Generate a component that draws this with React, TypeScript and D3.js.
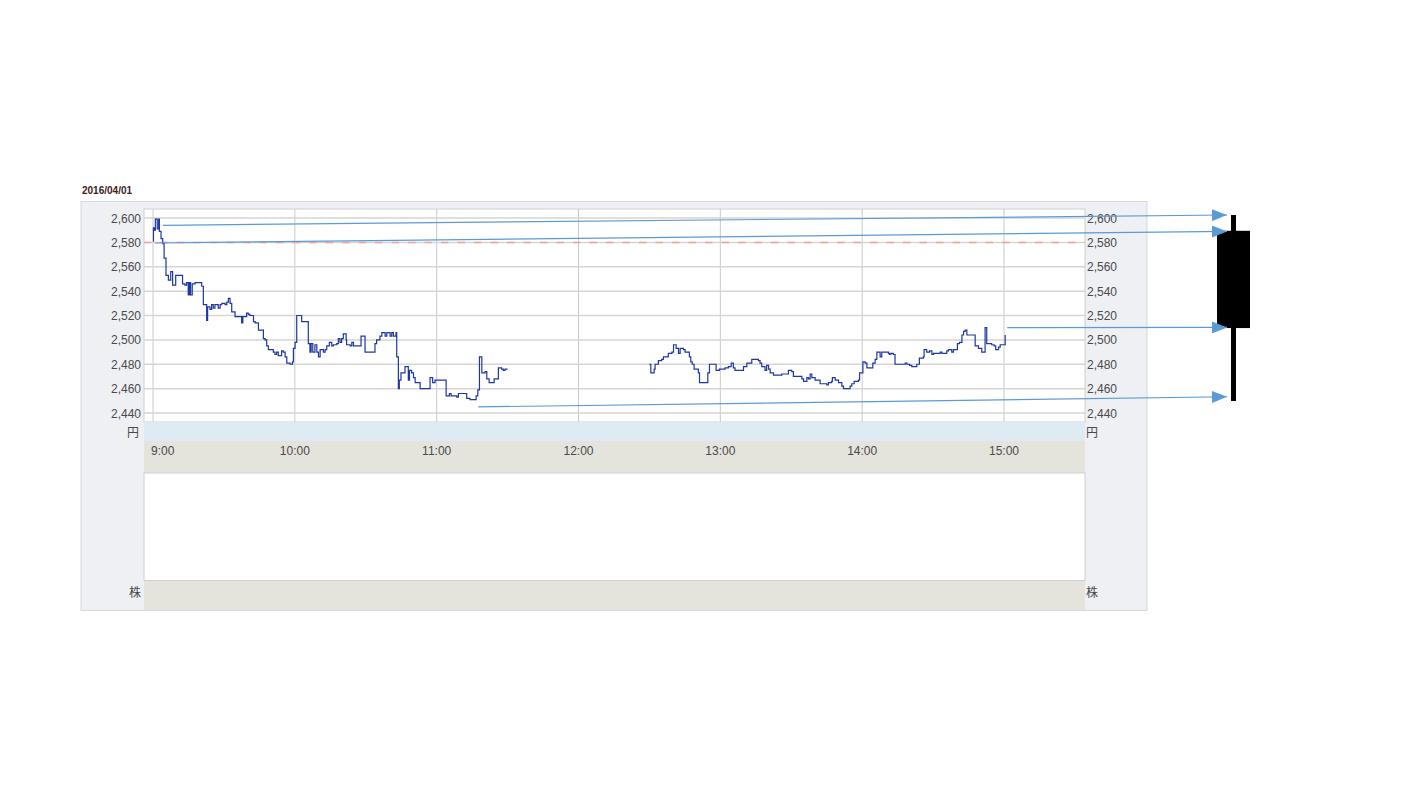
import React from "react";
import * as d3 from "d3";

// ---- data (minutes after 9:00, price in yen) ----
const dateLabel = "2016/04/01";
const prevClose = 2580;
const yTicks = [2440, 2460, 2480, 2500, 2520, 2540, 2560, 2580, 2600];
const hourTicks = [0, 60, 120, 180, 240, 300, 360];
const hourLabels = ["9:00", "10:00", "11:00", "12:00", "13:00", "14:00", "15:00"];

const morningSession: [number, number][] = [
  [0, 2581], [0.2, 2592], [0.5, 2590], [1.0, 2599], [1.8, 2591], [2.4, 2599], [2.7, 2589], [3.4, 2583],
  [4.1, 2579], [4.7, 2567], [5.5, 2553], [6.5, 2549], [7.5, 2556], [8.3, 2545], [9.6, 2553], [12.5, 2546],
  [13.5, 2545], [14.2, 2547], [14.9, 2537], [15.4, 2547], [15.9, 2537], [16.6, 2546], [17.8, 2547], [20.6, 2544],
  [21.3, 2529], [22.7, 2516], [23.1, 2527], [24.1, 2525], [24.8, 2529], [25.5, 2526], [26.2, 2529], [27.6, 2526],
  [28.4, 2529], [29.1, 2530], [30.5, 2529], [31.2, 2531], [31.9, 2534], [32.6, 2530], [33.3, 2523], [34.7, 2519],
  [37.5, 2514], [38.0, 2519], [39.6, 2522], [40.3, 2521], [41.0, 2520], [42.5, 2515], [43.2, 2514], [44.6, 2508],
  [46.7, 2501], [47.4, 2500], [48.1, 2495], [48.8, 2492], [50.9, 2490], [51.6, 2488], [52.3, 2490], [53.0, 2487],
  [54.4, 2491], [55.1, 2490], [55.9, 2486], [56.6, 2481], [58.0, 2480], [59.0, 2482], [59.4, 2493], [60.1, 2498],
  [60.8, 2520], [62.9, 2515], [65.7, 2497], [66.4, 2490], [66.9, 2497], [67.6, 2490], [68.5, 2496], [69.3, 2490],
  [70.0, 2486], [70.7, 2492], [72.1, 2490], [72.8, 2492], [73.5, 2495], [74.6, 2498], [75.6, 2495], [76.3, 2496],
  [77.7, 2497], [78.4, 2501], [79.1, 2498], [79.8, 2501], [80.5, 2505], [81.7, 2500], [81.9, 2496], [83.4, 2495],
  [84.1, 2498], [84.8, 2495], [88.0, 2503], [89.7, 2490], [93.9, 2497], [94.6, 2500], [96.0, 2503], [96.8, 2506],
  [98.2, 2503], [98.9, 2506], [100.3, 2503], [101.0, 2506], [101.7, 2503], [102.8, 2506], [103.1, 2486], [103.8, 2460],
  [104.2, 2467], [104.9, 2473], [106.6, 2478], [108.0, 2467], [108.5, 2475], [109.4, 2473], [110.2, 2469], [110.9, 2465],
  [113.0, 2460], [117.2, 2469], [118.3, 2465], [119.3, 2467], [124.0, 2454], [125.4, 2456], [126.1, 2454], [128.5, 2453],
  [129.2, 2456], [132.7, 2452], [134.1, 2451], [136.7, 2454], [137.4, 2459], [138.1, 2486], [139.1, 2473], [140.5, 2474],
  [141.2, 2468], [142.2, 2465], [144.3, 2468], [146.1, 2477], [147.5, 2476], [148.2, 2475], [148.9, 2476], [150, 2476],
];

const afternoonSession: [number, number][] = [
  [209.9, 2480], [210.6, 2473], [212.0, 2476], [212.4, 2480], [213.8, 2483], [215.2, 2484], [215.9, 2486], [218.0, 2489],
  [219.5, 2490], [220.2, 2496], [221.3, 2493], [222.3, 2489], [223.0, 2493], [224.4, 2492], [225.1, 2490], [226.9, 2486],
  [227.5, 2482], [228.1, 2480], [228.9, 2476], [230.7, 2473], [231.2, 2465], [234.7, 2473], [235.4, 2480], [238.2, 2475],
  [239.6, 2476], [242.0, 2477], [243.4, 2478], [244.6, 2481], [245.5, 2477], [246.2, 2475], [249.8, 2478], [251.2, 2481],
  [253.3, 2484], [256.1, 2483], [256.8, 2481], [257.5, 2478], [258.9, 2475], [259.6, 2479], [260.4, 2476], [261.1, 2473],
  [262.5, 2471], [266.0, 2472], [268.8, 2475], [270.2, 2474], [270.9, 2470], [274.5, 2468], [275.2, 2466], [276.6, 2469],
  [277.3, 2468], [278.0, 2472], [278.7, 2469], [280.1, 2467], [282.2, 2464], [285.0, 2463], [285.7, 2465], [287.1, 2466],
  [287.4, 2469], [288.6, 2467], [290.0, 2465], [291.4, 2462], [292.1, 2460], [294.9, 2462], [295.6, 2464], [296.6, 2466],
  [298.4, 2467], [298.9, 2473], [300.3, 2482], [301.3, 2481], [302.0, 2477], [304.5, 2481], [305.5, 2484], [306.2, 2490],
  [307.6, 2486], [308.3, 2490], [311.1, 2489], [311.5, 2488], [312.1, 2489], [313.2, 2488], [313.9, 2480], [318.2, 2481],
  [318.9, 2480], [320.0, 2479], [321.0, 2478], [323.1, 2480], [324.2, 2485], [325.9, 2486], [326.2, 2492], [327.3, 2490],
  [328.5, 2491], [329.5, 2488], [330.2, 2489], [333.0, 2490], [333.7, 2489], [335.8, 2491], [336.5, 2492], [337.9, 2490],
  [338.6, 2492], [340.3, 2497], [341.2, 2498], [342.2, 2504], [342.9, 2507], [343.6, 2508], [344.3, 2504], [347.8, 2495],
  [349.2, 2493], [350.6, 2490], [352.0, 2510], [352.7, 2497], [354.8, 2496], [355.8, 2495], [356.5, 2492], [357.7, 2494],
  [358.4, 2496], [360.5, 2504],
];

// candlestick summary (open, high, low, close)
const candleOHLC = { open: 2590, high: 2603, low: 2450, close: 2510 };
// annotation arrows: start point on chart -> candle value
const arrowStarts: [number, number][] = [[2.5, 2594], [0, 2579.5], [360.5, 2510], [136.7, 2445]];
const arrowTargets = [2603, 2589.5, 2510.5, 2453.5];

export default function App() {
  const W = 1409, H = 793;
  const plotL = 144, plotR = 1085, plotT = 209, plotB = 422;
  const x = d3.scaleLinear().domain([0, 360]).range([153, 1004]);
  const y = d3.scaleLinear().domain([2440, 2600]).range([413, 218]);
  const cy = d3.scaleLinear().domain([candleOHLC.low, candleOHLC.high]).range([401, 215]);
  const line = d3.line<[number, number]>().x(d => x(d[0])).y(d => y(d[1])).curve(d3.curveStepAfter);
  const font = "'Liberation Sans', Arial, sans-serif";
  const cjk = "'Noto Sans CJK JP', sans-serif";
  const lblColor = "#4a4a4a";
  const arrowColor = "#5b9bd5";
  const candleX = 1233.5;

  return (
    <svg width={W} height={H} style={{ position: "absolute", left: 0, top: 0, background: "#fff" }}>
      <defs>
        <marker id="ah" markerUnits="userSpaceOnUse" markerWidth="16" markerHeight="12" refX="15" refY="6" orient="auto">
          <path d="M0,0 L15,6 L0,12 Z" fill={arrowColor} />
        </marker>
      </defs>
      <text x={82} y={194} fontFamily={font} fontWeight="bold" fontSize={10} fill="#3b2222">{dateLabel}</text>
      {/* outer panel */}
      <rect x={81} y={201.5} width={1066} height={409} fill="#eef0f4" stroke="#d6d8dc" strokeWidth={1} />
      {/* price plot */}
      <rect x={plotL} y={plotT} width={plotR - plotL} height={plotB - plotT} fill="#fff" stroke="#cfcfcf" strokeWidth={1} />
      {hourTicks.map(t => (
        <line key={"v" + t} x1={x(t)} x2={x(t)} y1={plotT} y2={plotB} stroke="#c9c9c9" strokeWidth={1} />
      ))}
      {yTicks.map(v => (
        <line key={"h" + v} x1={plotL} x2={plotR} y1={y(v)} y2={y(v)} stroke="#d5d5d5" strokeWidth={1.5} />
      ))}
      <line x1={plotL} x2={plotR} y1={y(prevClose)} y2={y(prevClose)} stroke="#f2a29c" strokeWidth={1.5} strokeDasharray="7.5 9" />
      {yTicks.map(v => (
        <text key={"l" + v} x={141} y={y(v) + 4.5} textAnchor="end" fontFamily={font} fontSize={12} fill={lblColor}>{d3.format(",")(v)}</text>
      ))}
      {yTicks.map(v => (
        <text key={"r" + v} x={1087} y={y(v) + 4.5} fontFamily={font} fontSize={12} fill={lblColor}>{d3.format(",")(v)}</text>
      ))}
      <path d={line(morningSession) || ""} fill="none" stroke="#1f37a0" strokeWidth={1.2} />
      <path d={line(afternoonSession) || ""} fill="none" stroke="#1f37a0" strokeWidth={1.2} />
      {/* bands */}
      <rect x={plotL} y={plotB} width={plotR - plotL} height={19} fill="#deebf2" />
      <rect x={plotL} y={441} width={plotR - plotL} height={32} fill="#e5e4dc" />
      <text x={139} y={437} textAnchor="end" fontFamily={cjk} fontSize={12} fill={lblColor}>円</text>
      <text x={1086} y={437} fontFamily={cjk} fontSize={12} fill={lblColor}>円</text>
      {hourTicks.map((t, i) => (
        <text key={"t" + t} x={i === 0 ? 151 : x(t)} y={455} textAnchor={i === 0 ? "start" : "middle"} fontFamily={font} fontSize={12} fill={lblColor}>{hourLabels[i]}</text>
      ))}
      {/* volume box */}
      <rect x={plotL} y={473} width={plotR - plotL} height={107.5} fill="#fff" stroke="#cfcfcf" strokeWidth={1} />
      <rect x={plotL} y={581} width={plotR - plotL} height={29} fill="#e5e4dc" />
      <text x={141} y={597} textAnchor="end" fontFamily={cjk} fontSize={12} fill={lblColor}>株</text>
      <text x={1086} y={597} fontFamily={cjk} fontSize={12} fill={lblColor}>株</text>
      {/* candlestick */}
      <rect x={candleX - 2.5} y={cy(candleOHLC.high)} width={5} height={cy(candleOHLC.low) - cy(candleOHLC.high)} fill="#000" />
      <rect x={1217} y={cy(candleOHLC.open)} width={33} height={cy(candleOHLC.close) - cy(candleOHLC.open)} fill="#000" />
      {/* arrows */}
      {arrowStarts.map((s, i) => (
        <line key={"a" + i} x1={x(s[0]) + (i === 0 ? 4 : 2)} y1={y(s[1])} x2={1227} y2={cy(arrowTargets[i])} stroke={arrowColor} strokeWidth={1.2} markerEnd="url(#ah)" />
      ))}
    </svg>
  );
}
